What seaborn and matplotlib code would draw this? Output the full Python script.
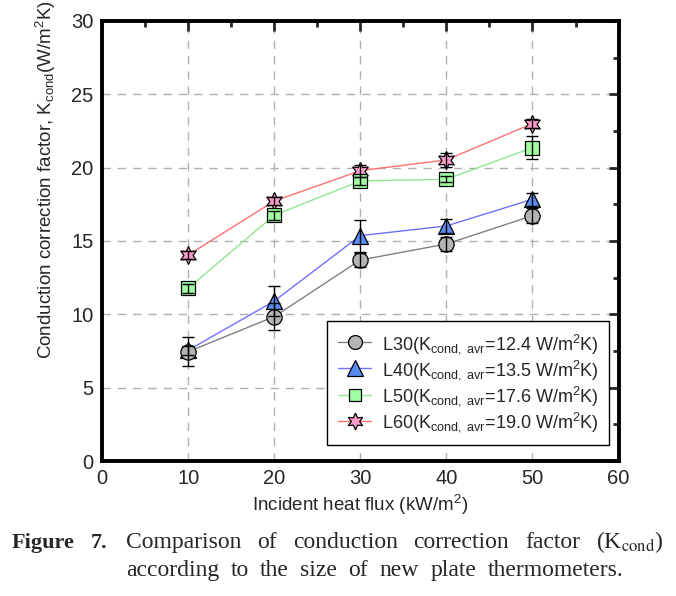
import numpy as np
import pandas as pd
import matplotlib
matplotlib.use("Agg")
import matplotlib.pyplot as plt
from matplotlib.lines import Line2D
from matplotlib.ticker import MultipleLocator
import seaborn as sns

# Data
heat_flux = [10, 20, 30, 40, 50]
series_names = ["L30", "L40", "L50", "L60"]
k_l30 = [7.45, 9.84, 13.70, 14.79, 16.72]
k_l40 = [7.55, 10.90, 15.36, 16.02, 17.84]
k_l50 = [11.77, 16.75, 19.09, 19.20, 21.36]
k_l60 = [14.04, 17.72, 19.79, 20.52, 23.00]
err_l30 = [1.0, 0.9, 0.5, 0.5, 0.5]
err_l40 = [0.3, 1.0, 1.1, 0.5, 0.45]
err_l50 = [0.3, 0.3, 0.3, 0.2, 0.8]
err_l60 = [0.3, 0.3, 0.4, 0.5, 0.3]
k_avr = ["12.4", "13.5", "17.6", "19.0"]

sns.set_style("white")
plt.rcParams["font.family"] = ["Liberation Sans", "DejaVu Sans"]
plt.rcParams["mathtext.fontset"] = "custom"
plt.rcParams["mathtext.rm"] = "Liberation Sans"
plt.rcParams["mathtext.it"] = "Liberation Sans"

values = [k_l30, k_l40, k_l50, k_l60]
errors = [err_l30, err_l40, err_l50, err_l60]
df = pd.DataFrame({
    "flux": heat_flux * 4,
    "k": sum(values, []),
    "err": sum(errors, []),
    "series": np.repeat(series_names, len(heat_flux)),
})

line_colors = ["#808080", "#7070ff", "#90e890", "#ff7070"]
face_colors = ["#b4b4b4", "#5a8cf0", "#a0ffa0", "#ff9ccc"]
markers = ["o", "^", "s", (6, 1, 0)]
msizes = [11, 12, 9.5, 13]

fig = plt.figure(figsize=(6.76, 5.96), dpi=100)
ax = fig.add_axes([0.151, 0.2265, 0.764, 0.7385])

# draw L60 first so that L30 ends up on top, as in the original
for i in reversed(range(len(series_names))):
    sub = df[df["series"] == series_names[i]]
    sns.lineplot(data=sub, x="flux", y="k", color=line_colors[i], lw=1.0,
                 ax=ax, zorder=2 + (3 - i) * 0.1)
    ax.plot(sub["flux"], sub["k"], ls="none", marker=markers[i],
            ms=msizes[i], mfc=face_colors[i], mec="black", mew=0.9,
            zorder=3 + (3 - i) * 0.1)
    ax.errorbar(sub["flux"], sub["k"], yerr=sub["err"], fmt="none",
                ecolor="black", elinewidth=1.0, capsize=4.5, capthick=1.0,
                zorder=4)

ax.set_xlim(0, 60)
ax.set_ylim(0, 30)
ax.xaxis.set_major_locator(MultipleLocator(10))
ax.xaxis.set_minor_locator(MultipleLocator(5))
ax.yaxis.set_major_locator(MultipleLocator(5))
ax.yaxis.set_minor_locator(MultipleLocator(2.5))
ax.tick_params(which="both", direction="in", top=True, right=True,
               width=2.0, labelsize=14.5)
ax.tick_params(which="major", length=7, pad=6)
ax.tick_params(which="minor", length=4)
for sp in ax.spines.values():
    sp.set_linewidth(2.8)
    sp.set_color("black")
ax.grid(True, which="major", ls=(0, (6, 5)), color="#b0b0b0", lw=1.0)
ax.set_axisbelow(True)

ax.set_xlabel("Incident heat flux (kW/m$^2$)", fontsize=13.5, labelpad=3)
ax.set_ylabel("Conduction correction factor, K$_{\\mathrm{cond}}$(W/m$^2$K)",
              fontsize=13.5)
ax.yaxis.set_label_coords(-0.085, 0.64)

handles = []
labels = []
for i, name in enumerate(series_names):
    handles.append(Line2D([0], [0], color=line_colors[i], lw=1.0,
                          marker=markers[i], ms=msizes[i] - 1,
                          mfc=face_colors[i], mec="black", mew=0.9))
    labels.append(name + "(K$_{\\mathrm{cond,\\ avr}}$=" + k_avr[i]
                  + " W/m$^2$K)")
leg = ax.legend(handles, labels, loc="lower right", fontsize=13,
                frameon=True, fancybox=False, edgecolor="black",
                framealpha=1, handlelength=1.8, handletextpad=0.6,
                borderpad=0.6, labelspacing=0.12, handleheight=1.0,
                bbox_to_anchor=(0.982, 0.036), borderaxespad=0)
leg.get_frame().set_linewidth(1.0)

# Caption, justified like the journal figure
serif = ["Liberation Serif", "DejaVu Serif"]
cap_size = 17
fig.text(74 / 676, 1 - 548 / 596, "Figure", family=serif, fontsize=16,
         weight="bold", va="baseline", ha="right")
fig.text(107 / 676, 1 - 548 / 596, "7.", family=serif, fontsize=16,
         weight="bold", va="baseline", ha="right")
caption_lines = [
    (["Comparison", "of", "conduction", "correction", "factor",
      "(K$_{\\mathrm{cond}}$)"], 548, 663),
    (["according", "to", "the", "size", "of", "new", "plate",
      "thermometers."], 576, 623),
]
fig.canvas.draw()
r = fig.canvas.get_renderer()
for words, ypix, xend in caption_lines:
    texts = [fig.text(0, 1 - ypix / 596, w, family=serif, fontsize=cap_size,
                      va="baseline", math_fontfamily="stix") for w in words]
    widths = [t.get_window_extent(r).width for t in texts]
    x0 = 126
    gap = (xend - x0 - sum(widths)) / (len(widths) - 1)
    x = x0
    for t, w in zip(texts, widths):
        t.set_x(x / 676)
        x += w + gap

fig.savefig("out.png", dpi=100)
